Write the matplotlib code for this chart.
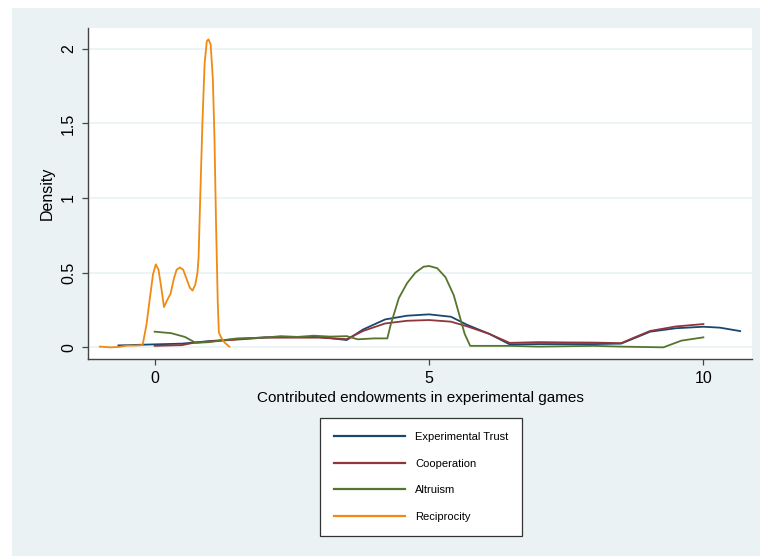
import matplotlib
matplotlib.use("Agg")
from matplotlib import pyplot as plt
from matplotlib.patches import Rectangle

plt.rcParams["font.family"] = ["Liberation Sans", "DejaVu Sans"]

# densities (x = contributed endowment, y = density)
trust_x = [-0.66, 0.0, 0.5, 1.0, 1.5, 2.0, 2.5, 3.0, 3.5, 3.8, 4.2, 4.6, 5.0, 5.4, 5.7, 6.1, 6.47, 7.0, 7.5, 8.0, 8.5, 8.8, 9.03, 9.5, 10.0, 10.3, 10.67]
trust_y = [0.013, 0.02, 0.025, 0.042, 0.055, 0.067, 0.07, 0.07, 0.049, 0.12, 0.187, 0.212, 0.221, 0.205, 0.15, 0.09, 0.02, 0.022, 0.022, 0.022, 0.025, 0.07, 0.105, 0.128, 0.138, 0.132, 0.109]

coop_x = [0.0, 0.5, 0.7, 1.0, 1.5, 2.0, 2.5, 3.0, 3.5, 3.8, 4.2, 4.6, 5.0, 5.4, 5.7, 6.1, 6.47, 7.0, 7.5, 8.0, 8.5, 8.8, 9.03, 9.5, 10.0]
coop_y = [0.01, 0.015, 0.03, 0.04, 0.052, 0.065, 0.065, 0.065, 0.055, 0.11, 0.16, 0.178, 0.183, 0.172, 0.14, 0.09, 0.03, 0.035, 0.033, 0.032, 0.028, 0.075, 0.11, 0.14, 0.156]

altru_x = [0.0, 0.3, 0.55, 0.75, 1.0, 1.5, 2.0, 2.3, 2.6, 2.9, 3.2, 3.5, 3.7, 4.0, 4.24, 4.3, 4.45, 4.6, 4.75, 4.9, 5.0, 5.15, 5.3, 5.45, 5.55, 5.65, 5.75, 6.5, 7.0, 8.0, 8.5, 9.27, 9.6, 10.0]
altru_y = [0.105, 0.095, 0.07, 0.03, 0.035, 0.06, 0.065, 0.075, 0.07, 0.078, 0.072, 0.075, 0.054, 0.06, 0.06, 0.15, 0.33, 0.43, 0.5, 0.54, 0.545, 0.53, 0.47, 0.35, 0.22, 0.09, 0.01, 0.01, 0.005, 0.01, 0.005, 0.0, 0.045, 0.067]

recip_x = [-1.0, -0.8, -0.65, -0.5, -0.35, -0.22, -0.15, -0.08, -0.03, 0.02, 0.07, 0.12, 0.17, 0.22, 0.29, 0.35, 0.40, 0.46, 0.52, 0.58, 0.64, 0.69, 0.74, 0.78, 0.80, 0.83, 0.87, 0.91, 0.95, 0.98, 1.02, 1.06, 1.09, 1.12, 1.15, 1.17, 1.22, 1.28, 1.36]
recip_y = [0.005, 0.0, 0.003, 0.012, 0.012, 0.015, 0.15, 0.35, 0.49, 0.556, 0.52, 0.40, 0.27, 0.31, 0.36, 0.46, 0.52, 0.535, 0.52, 0.46, 0.40, 0.38, 0.42, 0.50, 0.60, 1.00, 1.50, 1.90, 2.05, 2.063, 2.03, 1.80, 1.40, 0.80, 0.30, 0.10, 0.06, 0.03, 0.005]

labels = ["Experimental Trust", "Cooperation", "Altruism", "Reciprocity"]
colors = ["#1a476f", "#90353b", "#55752f", "#f08a12"]
yticks = [0, 0.5, 1, 1.5, 2]
yticklabels = ["0", "0.5", "1", "1.5", "2"]
xticks = [0, 5, 10]

W, H = 760, 556
fig = plt.figure(figsize=(W / 100, H / 100), dpi=100, facecolor="white")
# stata-ish outer region (screenshot has a white strip top/left)
fig.patches.append(Rectangle((12 / W, 0), 1 - 12 / W, 1 - 8 / H, transform=fig.transFigure,
                             facecolor="#eaf2f3", edgecolor="none", zorder=-5))

ax = fig.add_axes([88 / W, 1 - 359 / H, (752 - 88) / W, (359 - 28) / H])
ax.set_facecolor("white")

for xs, ys, lab, c in zip([trust_x, coop_x, altru_x, recip_x], [trust_y, coop_y, altru_y, recip_y], labels, colors):
    ax.plot(xs, ys, color=c, lw=1.3, label=lab, solid_joinstyle="round")

ax.set_xlim(-1.215, 10.886)
ax.set_ylim(-0.078, 2.139)
ax.set_yticks(yticks)
ax.set_yticklabels(yticklabels, rotation=90, va="center")
ax.set_xticks(xticks)
ax.grid(axis="y", color="#eaf2f3", lw=1.2)
ax.set_axisbelow(True)
for s in ["top", "right"]:
    ax.spines[s].set_visible(False)
for s in ["left", "bottom"]:
    ax.spines[s].set_color("#444444")
    ax.spines[s].set_linewidth(1.0)
ax.tick_params(axis="both", length=4.5, width=0.9, color="#444444", labelsize=11.5, pad=4)
ax.set_ylabel("Density", fontsize=11.5, labelpad=5)
ax.set_xlabel("Contributed endowments in experimental games", fontsize=11, labelpad=4)

leg = fig.legend(loc="upper left", bbox_to_anchor=(320 / W, 1 - 418 / H), ncol=1, fontsize=8,
                 frameon=True, fancybox=False, handlelength=6.4, handletextpad=0.9,
                 labelspacing=1.5, borderpad=1.25, borderaxespad=0, framealpha=1)
leg.get_frame().set_facecolor("white")
leg.get_frame().set_edgecolor("#333333")
leg.get_frame().set_linewidth(0.9)
for h in leg.get_lines():
    h.set_linewidth(1.6)

fig.savefig("out.png", dpi=100, facecolor=fig.get_facecolor())
